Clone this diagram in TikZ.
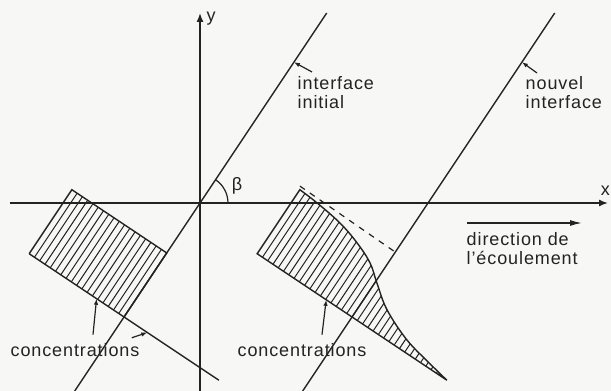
\documentclass[tikz,border=0pt]{standalone}
\usepackage{fontspec}
\setmainfont{Liberation Sans}[LetterSpace=5]
\usepackage{tikz}
\usetikzlibrary{arrows.meta,positioning,calc}
\definecolor{paper}{RGB}{247,247,246}
\definecolor{ink}{RGB}{35,35,35}

\begin{document}
\begin{tikzpicture}[
    x=0.5pt, y=0.5pt,
    line width=0.7pt, color=ink,
    axis/.style={-{Latex[length=4.5pt,width=3.5pt]}},
    arrow/.style={-{Latex[length=3pt,width=2.2pt]}, line width=0.6pt},
    flow/.style={-{Latex[length=6pt,width=3pt]}},
    hatch/.style={line width=0.5pt},
    lbl/.style={font=\fontsize{9}{9.5}\selectfont, align=left, inner sep=0pt}
]

\fill[paper] (-200,-188) rectangle (411,203);
\useasboundingbox (-200,-188) rectangle (411,203);

% axes
\coordinate (xs) at (-190,0);
\coordinate (xe) at (408,0);
\coordinate (ys) at (0,-188);
\coordinate (ye) at (0,190);
\draw[axis] (xs) -- (xe);
\draw[axis] (ys) -- (ye);
\node[lbl, anchor=east] (xlab) at (410.5,12) {x};
\node[lbl, anchor=west] (ylab) at (6,184) {y};

% interfaces
\coordinate (ii0) at (-125.3,-188);
\coordinate (ii1) at (126.7,190);
\coordinate (ni0) at (102.7,-188);
\coordinate (ni1) at (354.7,190);
\draw (ii0) -- (ii1) coordinate[pos=0.87] (iiarr);
\draw (ni0) -- (ni1) coordinate[pos=0.87] (niarr);

% angle
\draw[line width=0.6pt] (28,0) arc[start angle=0, end angle=56.31, radius=28];
\node[lbl] (beta) at (37,17) {β};

% initial profile
\begin{scope}[rotate=-33.69]
  \foreach \i in {1,...,17}
    \draw[hatch] (-114+\i*6.333,-137) -- ++(0,77);
  \draw (-114,-137) -- (-114,-60) -- (0,-60) -- (0,-137);
  \draw (-114,-137) -- (114,-137);
  \coordinate (lbase) at (-33,-137);
  \coordinate (lcross) at (28,-137);
  \coordinate (ltail) at (18,-150);
\end{scope}

% shifted profile
\begin{scope}[shift={(228,0)}, rotate=-33.69]
  \begin{scope}
    \clip (-114,-137) -- plot[smooth, tension=0.6] coordinates {(-114,-60) (-92,-61.5)
      (-62,-65.5) (-37,-72.5) (-15,-82) (2,-95) (25,-111.5) (58,-125.5) (90,-132.5)
      (114,-137)} -- cycle;
    \foreach \i in {1,...,35}
      \draw[hatch] (-114+\i*6.333,-140) -- ++(0,85);
  \end{scope}
  \draw (-114,-137) -- plot[smooth, tension=0.6] coordinates {(-114,-60) (-92,-61.5)
      (-62,-65.5) (-37,-72.5) (-15,-82) (2,-95) (25,-111.5) (58,-125.5) (90,-132.5)
      (114,-137)} -- cycle;
  \draw[dashed, line width=0.6pt] (-116,-57) -- (0,-59);
  \coordinate (rbase) at (-31,-137);
\end{scope}

% labels
\node[lbl] (lconc) at (-125,-147) {concentrations};
\node[lbl] (rconc) at (102,-147) {concentrations};
\draw[arrow] ([xshift=9pt,yshift=4pt]lconc.north) -- (lbase);
\draw[arrow] ([xshift=10pt,yshift=4pt]rconc.north) -- (rbase);
\draw[arrow] (ltail) -- (lcross);

\node[lbl, anchor=north west] (iilab) at (97,127) {interface\\initial};
\node[lbl, anchor=north west] (nilab) at (325,127) {nouvel\\interface};
\draw[arrow] ([xshift=7.5pt,yshift=2pt]iilab.north west) -- (iiarr);
\draw[arrow] ([xshift=6pt,yshift=1.5pt]nilab.north west) -- (niarr);

\coordinate (flowa) at (267,-20);
\coordinate (flowb) at (382,-20);
\draw[flow] (flowa) -- (flowb);
\node[lbl, anchor=north west] (flowlab) at (266,-29) {direction de\\l'écoulement};

\end{tikzpicture}
\end{document}
